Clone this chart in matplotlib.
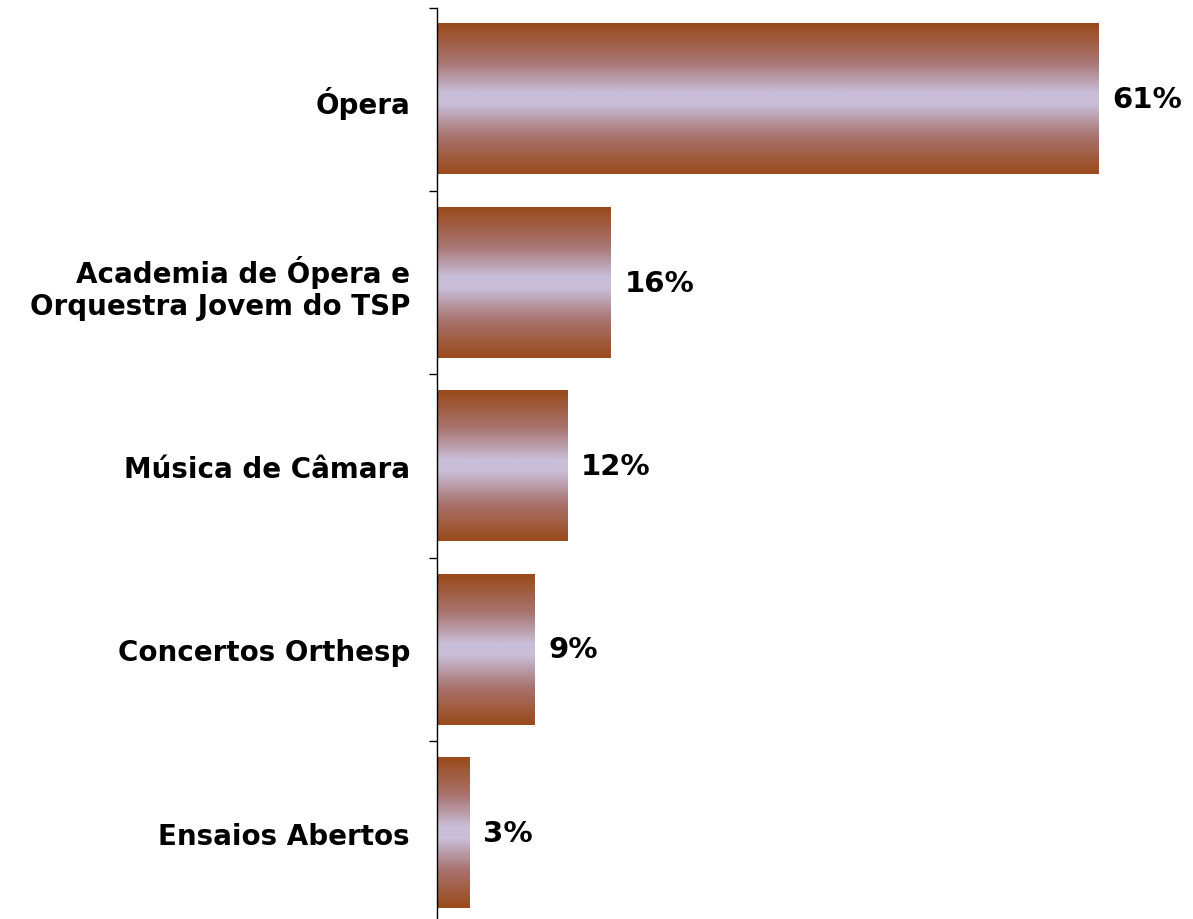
import numpy as np
import matplotlib
matplotlib.use("Agg")
import matplotlib.pyplot as plt
from matplotlib.colors import LinearSegmentedColormap

categories = ["Ópera", "Academia de Ópera e\nOrquestra Jovem do TSP", "Música de Câmara",
              "Concertos Orthesp", "Ensaios Abertos"]
values = [61, 16, 12, 9, 3]
labels = ["61%", "16%", "12%", "9%", "3%"]

brown = "#9A4A1A"
lav = "#C9BDD8"
# brown at the bar edges, lavender in the middle
grad = LinearSegmentedColormap.from_list(
    "bar_grad",
    [(0.0, brown), (0.25, "#A8736E"), (0.46, lav), (0.54, lav), (0.75, "#A8736E"), (1.0, brown)])

plt.rcParams['font.family'] = ['DejaVu Sans']
fig = plt.figure(figsize=(11.93, 9.2), dpi=100)
ax = fig.add_axes([437 / 1193, -5.5 / 920, 1 - 437 / 1193, (920 - 8.5 + 5.5) / 920])

bar_h = 0.82
strip = np.linspace(0, 1, 256).reshape(-1, 1)
for i, v in enumerate(values):
    # gradient fill drawn as an image clipped to the bar extent
    ax.imshow(strip, cmap=grad, aspect="auto", interpolation="bilinear",
              extent=[0, v, i + bar_h / 2, i - bar_h / 2], zorder=2)
    ax.annotate(labels[i], xy=(v, i), xytext=(10, 0), textcoords="offset points",
                ha="left", va="center", fontsize=21, fontweight="bold")

ax.set_xlim(0, (1193 - 437) / 10.84)
ax.set_ylim(len(values) - 0.5, -0.5)

ax.set_yticks(range(len(categories)))
ax.set_yticklabels(categories, fontsize=20, fontweight="bold", ha="right", linespacing=1.2)
ax.tick_params(axis="y", which="major", length=0, pad=19.5)
ax.set_yticks(np.arange(-0.5, len(categories), 1.0), minor=True)
ax.tick_params(axis="y", which="minor", length=6, width=1.0, direction="out")
ax.set_xticks([])

for s in ["top", "right", "bottom"]:
    ax.spines[s].set_visible(False)
ax.spines["left"].set_linewidth(1.0)
ax.spines["left"].set_zorder(3)

fig.savefig("out.png", dpi=100)
